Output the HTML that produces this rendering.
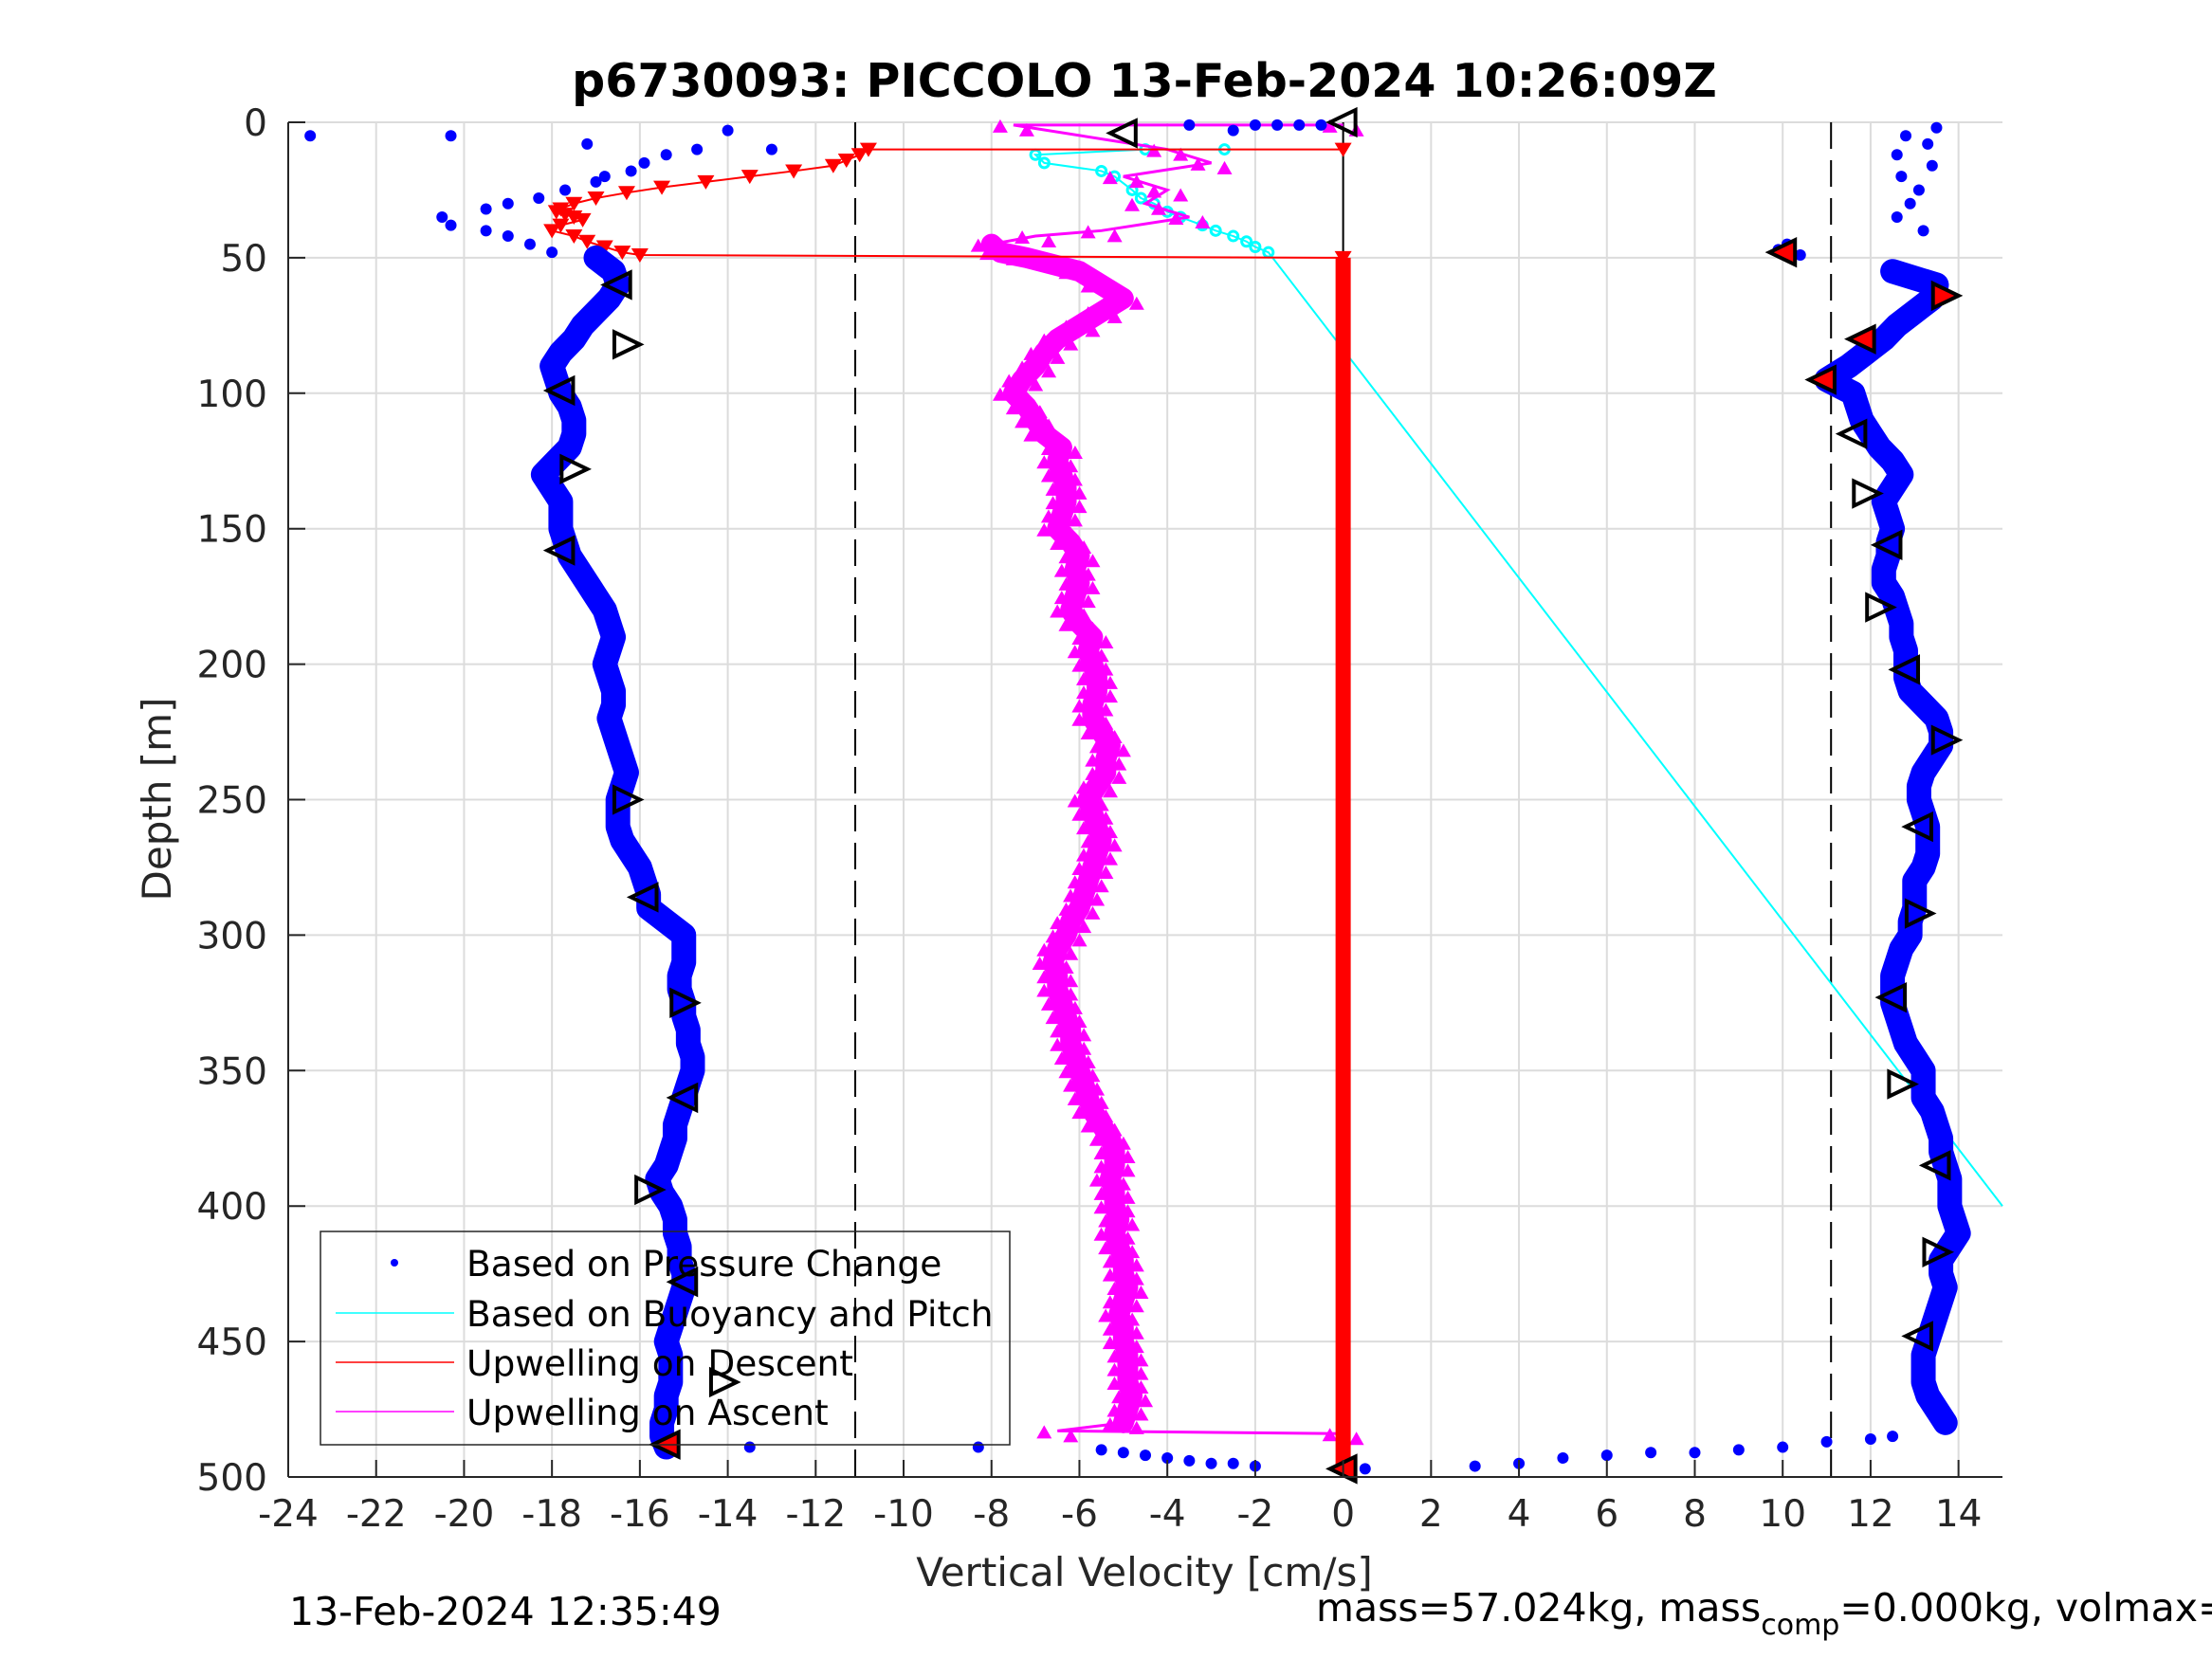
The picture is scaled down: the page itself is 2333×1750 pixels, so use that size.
<!DOCTYPE html>
<html><head><meta charset="utf-8"><style>
html,body{margin:0;padding:0;background:#fff;}
svg{display:block;font-family:"DejaVu Sans","Liberation Sans",sans-serif;}
</style></head><body>
<svg id="chart" width="2333" height="1750" viewBox="0 0 2333 1750" xmlns="http://www.w3.org/2000/svg">
<rect width="2333" height="1750" fill="#fff"/>
<g id="grid"></g>
<g id="marks"></g>
<g id="axes"></g>
<text x="1207" y="102" text-anchor="middle" font-size="49" font-weight="bold" fill="#000">p6730093: PICCOLO 13-Feb-2024 10:26:09Z</text>
<text x="1207" y="1673" text-anchor="middle" font-size="42" fill="#262626">Vertical Velocity [cm/s]</text>
<text transform="translate(180,843) rotate(-90)" text-anchor="middle" font-size="42" fill="#262626">Depth [m]</text>
<text x="305" y="1714" font-size="41" fill="#000">13-Feb-2024 12:35:49</text>
<text x="1388" y="1710" font-size="41" fill="#000">mass=57.024kg, mass<tspan font-size="30" dy="14">comp</tspan><tspan dy="-14">=0.000kg, volmax=0.000cc</tspan></text>
<g id="legend">
<rect x="338" y="1299" width="727" height="225" fill="none" stroke="#262626" stroke-width="1.5"/>
<circle cx="416" cy="1332" r="4" fill="#00f"/>
<text x="492" y="1346" font-size="37.5" fill="#000">Based on Pressure Change</text>
<line x1="354" y1="1385" x2="479" y2="1385" stroke="#0ff" stroke-width="1.5"/>
<text x="492" y="1399" font-size="37.5" fill="#000">Based on Buoyancy and Pitch</text>
<line x1="354" y1="1437" x2="479" y2="1437" stroke="#f00" stroke-width="1.5"/>
<text x="492" y="1451" font-size="37.5" fill="#000">Upwelling on Descent</text>
<line x1="354" y1="1489" x2="479" y2="1489" stroke="#f0f" stroke-width="1.5"/>
<text x="492" y="1503" font-size="37.5" fill="#000">Upwelling on Ascent</text>
</g>
</svg>
<script>
const xTicks=[-24,-22,-20,-18,-16,-14,-12,-10,-8,-6,-4,-2,0,2,4,6,8,10,12,14];
const yTicks=[0,50,100,150,200,250,300,350,400,450,500];
const descDepth=[5,5,8,3,10,10,12,15,18,20,22,25,28,30,32,35,38,40,42,45,48,50,55,60,65,70,75,80,85,90,95,100,105,110,115,120,125,130,135,140,145,150,155,160,165,170,175,180,185,190,195,200,205,210,215,220,225,230,235,240,245,250,255,260,265,270,275,280,285,290,295,300,305,310,315,320,325,330,335,340,345,350,355,360,365,370,375,380,385,390,395,400,405,410,415,420,425,430,435,440,445,450,455,460,465,470,475,480,485,489];
const descVel=[-23.5,-20.3,-17.2,-14,-13,-14.7,-15.4,-15.9,-16.2,-16.8,-17,-17.7,-18.3,-19,-19.5,-20.5,-20.3,-19.5,-19,-18.5,-18,-17,-16.6,-16.5,-16.7,-17,-17.3,-17.5,-17.8,-18,-17.9,-17.8,-17.6,-17.5,-17.5,-17.6,-17.9,-18.2,-18,-17.8,-17.8,-17.8,-17.7,-17.6,-17.4,-17.2,-17,-16.8,-16.7,-16.6,-16.7,-16.8,-16.7,-16.6,-16.6,-16.7,-16.6,-16.5,-16.4,-16.3,-16.4,-16.5,-16.5,-16.5,-16.4,-16.2,-16,-15.9,-15.8,-15.8,-15.4,-15,-15,-15,-15.1,-15.1,-15,-15,-14.9,-14.9,-14.8,-14.8,-14.9,-15,-15.1,-15.2,-15.2,-15.3,-15.4,-15.6,-15.5,-15.3,-15.2,-15.2,-15.1,-15.1,-15,-15,-15.1,-15.2,-15.3,-15.4,-15.3,-15.3,-15.3,-15.4,-15.4,-15.5,-15.5,-15.4];
const bottomDepth=[489,489,490,491,492,493,494,495,495,496,497,496,495,493,492,491,491,490,489,487,486,485,1,1,1,1,1,3];
const bottomVel=[-13.5,-8.3,-5.5,-5,-4.5,-4,-3.5,-3,-2.5,-2,0.5,3,4,5,6,7,8,9,10,11,12,12.5,-2,-1.5,-1,-0.5,-3.5,-2.5];
const ascDepth=[2,5,8,12,16,20,25,30,35,40,45,47,49,55,60,65,70,75,80,85,90,95,100,105,110,115,120,125,130,135,140,145,150,155,160,165,170,175,180,185,190,195,200,205,210,215,220,225,230,235,240,245,250,255,260,265,270,275,280,285,290,295,300,305,310,315,320,325,330,335,340,345,350,355,360,365,370,375,380,385,390,395,400,405,410,415,420,425,430,435,440,445,450,455,460,465,470,475,480];
const ascVel=[13.5,12.8,13.3,12.6,13.4,12.7,13.1,12.9,12.6,13.2,10.1,9.9,10.4,12.5,13.5,13.4,13,12.6,12.3,11.9,11.5,11,11.6,11.7,11.8,12,12.2,12.5,12.7,12.5,12.3,12.4,12.5,12.4,12.4,12.3,12.3,12.5,12.6,12.7,12.7,12.8,12.8,12.8,12.9,13.2,13.5,13.6,13.6,13.4,13.2,13.1,13.1,13.2,13.3,13.3,13.3,13.2,13,13,13,12.9,12.9,12.7,12.6,12.5,12.5,12.5,12.6,12.7,12.8,13,13.2,13.2,13.2,13.4,13.5,13.6,13.6,13.7,13.8,13.8,13.8,13.9,14,13.8,13.6,13.6,13.7,13.6,13.5,13.4,13.3,13.2,13.2,13.2,13.3,13.5,13.7];
const magDepth=[1,1,10,15,20,25,30,35,40,42,45,48,50,55,60,65,70,75,80,85,90,95,100,105,110,115,120,125,130,135,140,145,150,155,160,165,170,175,180,185,190,195,200,205,210,215,220,225,230,235,240,245,250,255,260,265,270,275,280,285,290,295,300,305,310,315,320,325,330,335,340,345,350,355,360,365,370,375,380,385,390,395,400,405,410,415,420,425,430,435,440,445,450,455,460,465,470,475,480,483,484];
const magVel=[0,-7.5,-4,-3,-5,-4,-4.5,-3.5,-5.5,-7,-8,-7.8,-7.2,-6,-5.5,-5,-5.5,-6,-6.5,-6.8,-7,-7.3,-7.5,-7.2,-7,-6.8,-6.4,-6.5,-6.4,-6.3,-6.3,-6.4,-6.5,-6.2,-6,-6.1,-6,-6.1,-6.2,-6,-5.7,-5.8,-5.7,-5.6,-5.6,-5.7,-5.7,-5.5,-5.3,-5.4,-5.4,-5.6,-5.8,-5.7,-5.6,-5.5,-5.6,-5.7,-5.8,-5.9,-6,-6.2,-6.3,-6.5,-6.6,-6.5,-6.5,-6.4,-6.3,-6.2,-6.2,-6.1,-6,-5.9,-5.8,-5.7,-5.5,-5.3,-5.2,-5.2,-5.3,-5.2,-5.2,-5.1,-5.2,-5.1,-5,-5,-4.9,-5,-5.1,-5,-5,-4.9,-4.9,-4.9,-4.8,-4.9,-5,-6.5,0];
const redDepth=[10,10,12,14,16,18,20,22,24,26,28,30,32,33,34,35,36,38,40,42,44,46,48,49,50];
const redVel=[0,-10.8,-11,-11.3,-11.6,-12.5,-13.5,-14.5,-15.5,-16.3,-17,-17.5,-17.8,-17.9,-17.7,-17.5,-17.3,-17.8,-18,-17.5,-17.2,-16.8,-16.4,-16,0];
const redBandDepth=[50,497];
const cyanDepth=[10,10,12,15,18,20,25,28,30,33,35,38,40,42,44,46,48,400];
const cyanVel=[-2.7,-4.5,-7,-6.8,-5.5,-5.2,-4.8,-4.6,-4.3,-4,-3.7,-3.2,-2.9,-2.5,-2.2,-2,-1.7,15];
const triDepth=[0,4,60,82,99,128,158,250,286,325,360,394,428,465,488,48,64,80,95,115,137,156,179,202,228,260,292,323,355,385,417,448,497];
const triVel=[0,-5,-16.5,-16.3,-17.8,-17.5,-17.8,-16.3,-15.9,-15,-15,-15.8,-15,-14.1,-15.4,10,13.7,11.8,10.9,11.6,11.9,12.4,12.2,12.8,13.7,13.1,13.1,12.5,12.7,13.5,13.5,13.1,0];
const triDir=[-1,-1,-1,1,-1,1,-1,1,-1,1,-1,1,-1,1,-1,-1,1,-1,-1,-1,1,-1,1,-1,1,-1,1,-1,1,-1,1,-1,-1];
const triRed=[0,0,0,0,0,0,0,0,0,0,0,0,0,0,1,1,1,1,1,0,0,0,0,0,0,0,0,0,0,0,0,0,1];
const dashedVel=[-11.1,11.1];

const L=304,R=2112,T=129,B=1558,XMIN=-24,XMAX=15;
const X=v=>L+(v-XMIN)*(R-L)/(XMAX-XMIN);
const Y=d=>T+d*(B-T)/500;
const NS='http://www.w3.org/2000/svg';
function mk(tag,attrs,parent){const e=document.createElementNS(NS,tag);for(const k in attrs)e.setAttribute(k,attrs[k]);parent.appendChild(e);return e;}
const grid=document.getElementById('grid'),marks=document.getElementById('marks'),axes=document.getElementById('axes');
mk('rect',{x:L,y:T,width:R-L,height:B-T,fill:'#fff'},grid);
xTicks.forEach(v=>{const l=mk('line',{x1:X(v),x2:X(v),y1:T,y2:B,stroke:'#dcdcdc','stroke-width':2},grid);

});
yTicks.forEach(v=>{const l=mk('line',{x1:L,x2:R,y1:Y(v),y2:Y(v),stroke:'#dcdcdc','stroke-width':2},grid);

});
dashedVel.forEach(v=>{const l=mk('line',{x1:X(v),x2:X(v),y1:T,y2:B,stroke:'#000','stroke-width':2,'stroke-dasharray':'28 12'},marks);

});
const zl=mk('line',{x1:X(0),x2:X(0),y1:Y(0),y2:Y(50),stroke:'#000','stroke-width':2},marks);


const cp=mk('polyline',{points:cyanDepth.map((d,i)=>X(cyanVel[i])+','+Y(d)).join(' '),fill:'none',stroke:'#0ff','stroke-width':2},marks);


cyanDepth.forEach((d,i)=>{if(cyanVel[i]>10)return;const c=mk('circle',{cx:X(cyanVel[i]),cy:Y(d),r:5,fill:'none',stroke:'#0ff','stroke-width':3},marks);

});
const mp=mk('polyline',{points:magDepth.map((d,i)=>X(magVel[i])+','+Y(d)).join(' '),fill:'none',stroke:'#f0f','stroke-width':3},marks);


const mb=mk('polyline',{points:magDepth.slice(10,99).map((d,i)=>X(magVel[i+10])+','+Y(d)).join(' '),fill:'none',stroke:'#f0f','stroke-width':22,'stroke-linejoin':'round','stroke-linecap':'round'},marks);


magDepth.forEach((d,i)=>{const x=X(magVel[i]),y=Y(d);const t=mk('polygon',{points:`${x-14},${y-6} ${x-22},${y+8} ${x-6},${y+8}`,fill:'#f0f'},marks);


const t2=mk('polygon',{points:`${x+14},${y-2} ${x+6},${y+12} ${x+22},${y+12}`,fill:'#f0f'},marks);

});
const rp=mk('polyline',{points:redDepth.map((d,i)=>X(redVel[i])+','+Y(d)).join(' '),fill:'none',stroke:'#f00','stroke-width':2},marks);


redDepth.forEach((d,i)=>{const x=X(redVel[i]),y=Y(d);const t=mk('polygon',{points:`${x-9},${y-7} ${x+9},${y-7} ${x},${y+8}`,fill:'#f00'},marks);

});
const rb=mk('rect',{x:X(0)-8,y:Y(redBandDepth[0]),width:16,height:Y(redBandDepth[1])-Y(redBandDepth[0]),fill:'#f00'},marks);


function band(dep,vel,name,from){const pts=dep.slice(from).map((d,i)=>X(vel[i+from])+','+Y(d)).join(' ');
const p=mk('polyline',{points:pts,fill:'none',stroke:'#00f','stroke-width':26,'stroke-linejoin':'round','stroke-linecap':'round'},marks);

}
band(descDepth,descVel,'descent-velocity-band',21);
band(ascDepth,ascVel,'ascent-velocity-band',13);
function dots(dep,vel,name){dep.forEach((d,i)=>{const c=mk('circle',{cx:X(vel[i]),cy:Y(d),r:6,fill:'#00f'},marks);

});}
dots(descDepth,descVel,'descent-velocity-point');
dots(ascDepth,ascVel,'ascent-velocity-point');
dots(bottomDepth,bottomVel,'turnaround-velocity-point');
triDepth.forEach((d,i)=>{const x=X(triVel[i]),y=Y(d),s=triDir[i];
const pts=`${x+s*14},${y} ${x-s*13},${y-13} ${x-s*13},${y+13}`;
const t=mk('polygon',{points:pts,fill:triRed[i]?'#f00':'none',stroke:'#000','stroke-width':4},marks);

});
mk('line',{x1:L,x2:R,y1:B,y2:B,stroke:'#262626','stroke-width':2},axes);
mk('line',{x1:L,x2:L,y1:T,y2:B,stroke:'#262626','stroke-width':2},axes);
xTicks.forEach(v=>{mk('line',{x1:X(v),x2:X(v),y1:B,y2:B-18,stroke:'#262626','stroke-width':2},axes);
const t=mk('text',{x:X(v),y:B+52,'text-anchor':'middle','font-size':39,fill:'#262626'},axes);
t.textContent=v;

});
yTicks.forEach(v=>{mk('line',{x1:L,x2:L+18,y1:Y(v),y2:Y(v),stroke:'#262626','stroke-width':2},axes);
const t=mk('text',{x:L-22,y:Y(v)+14,'text-anchor':'end','font-size':39,fill:'#262626'},axes);
t.textContent=v;

});
</script>
</body></html>
